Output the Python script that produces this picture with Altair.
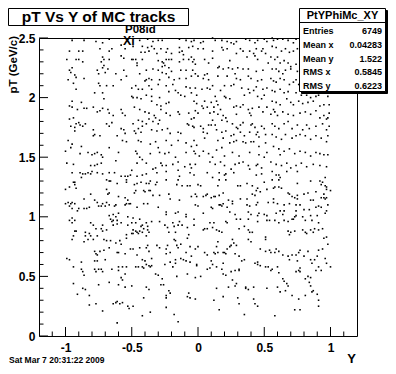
import altair as alt
import pandas as pd

# ---------------- data (pT vs Y of MC tracks) ----------------
upper_left = [
(-0.95,2.48),(-0.86,2.48),(-0.77,2.47),(-0.72,2.46),(-0.67,2.49),(-0.97,2.39),(-0.90,2.39),(-0.87,2.39),
(-0.74,2.41),(-0.67,2.39),(-0.65,2.41),(-0.58,2.44),(-0.55,2.41),(-0.99,2.32),(-0.92,2.32),(-0.90,2.32),
(-0.87,2.30),(-0.72,2.34),(-0.71,2.32),(-0.73,2.30),(-0.67,2.32),(-0.58,2.35),(-0.56,2.33),(-0.95,2.25),
(-0.97,2.23),(-0.96,2.21),(-0.93,2.19),(-0.92,2.17),(-0.86,2.16),(-0.76,2.23),(-0.75,2.20),(-0.72,2.25),
(-0.71,2.27),(-0.70,2.21),(-0.68,2.24),(-0.62,2.20),(-0.56,2.23),(-0.54,2.18),(-0.58,2.15),(-0.98,2.15),
(-0.94,2.12),(-0.75,2.12),(-0.74,2.10),(-0.69,2.10),(-0.64,2.10),(-0.72,2.04),(-0.71,1.99),(-0.92,2.07),
(-0.78,2.04),(-0.95,1.97),(-0.97,1.93),(-0.95,1.92),(-0.91,1.90),(-0.88,1.96),(-0.86,1.91),(-0.84,1.91),
(-0.79,1.92),(-0.76,1.88),(-0.74,1.89),(-0.72,1.91),(-0.68,1.90),(-0.67,1.87),(-0.64,1.85),(-0.58,1.90),
(-0.57,1.87),(-0.55,1.85),(-0.97,1.82),(-0.94,1.83),(-0.92,1.78),(-0.90,1.79),(-0.89,1.77),(-0.96,1.76),
(-0.93,1.75),(-0.93,1.72),(-0.87,1.76),(-0.85,1.78),(-0.79,1.73),(-0.69,1.78),(-0.67,1.76),(-0.65,1.79),
(-0.58,1.74),(-0.56,1.73),(-0.55,1.70),(-0.78,1.69),(-0.79,1.68),(-0.74,1.68),(-0.61,1.68),(-0.57,1.64),
(-0.54,1.63),(-0.98,1.64),(-0.95,1.61),(-0.88,1.59),(-0.96,1.58),(-1.00,1.55),(-0.89,1.53),(-0.83,1.54),
(-0.80,1.52),(-0.78,1.53),(-0.76,1.54),(-0.73,1.52),(-0.72,1.50),(-0.67,1.58),(-0.60,1.54),(-0.62,1.47),
(-0.99,1.45),(-0.94,1.44),(-0.81,1.43),(-0.78,1.43),(-0.76,1.44),(-0.73,1.45),
]
upper_midleft = [
(-0.44,2.48),(-0.38,2.49),(-0.34,2.47),(-0.30,2.48),(-0.27,2.48),(-0.14,2.49),(-0.09,2.48),(-0.05,2.47),
(-0.03,2.48),(-0.49,2.43),(-0.42,2.43),(-0.38,2.42),(-0.35,2.43),(-0.33,2.41),(-0.28,2.41),(-0.23,2.41),
(-0.14,2.42),(-0.12,2.39),(-0.07,2.42),(-0.04,2.43),(0.00,2.41),(-0.43,2.38),(-0.40,2.38),(-0.37,2.39),
(-0.31,2.37),(-0.24,2.38),(-0.20,2.37),(-0.14,2.38),(-0.11,2.36),(-0.50,2.32),(-0.49,2.32),(-0.47,2.32),
(-0.46,2.29),(-0.42,2.32),(-0.46,2.27),(-0.30,2.31),(-0.27,2.30),(-0.26,2.29),(-0.24,2.32),(-0.22,2.32),
(-0.20,2.32),(-0.27,2.26),(-0.25,2.27),(-0.22,2.25),(-0.14,2.30),(-0.11,2.32),(-0.07,2.32),(-0.05,2.34),
(-0.03,2.32),(-0.04,2.30),(-0.02,2.28),(-0.44,2.20),(-0.39,2.23),(-0.34,2.24),(-0.30,2.23),(-0.27,2.21),
(-0.24,2.20),(-0.20,2.22),(-0.13,2.23),(-0.09,2.23),(-0.04,2.23),(-0.02,2.20),(0.00,2.18),(-0.40,2.14),
(-0.39,2.15),(-0.37,2.16),(-0.35,2.15),(-0.29,2.15),(-0.22,2.17),(-0.18,2.15),(-0.14,2.16),(-0.09,2.16),
(-0.05,2.18),(-0.47,2.10),(-0.50,2.08),(-0.45,2.07),(-0.42,2.07),(-0.37,2.10),(-0.35,2.07),(-0.30,2.11),
(-0.24,2.10),(-0.19,2.11),(-0.17,2.06),(-0.09,2.09),(-0.06,2.08),(-0.02,2.08),(-0.50,2.01),(-0.49,2.00),
(-0.46,2.00),(-0.43,1.99),(-0.39,2.02),(-0.35,2.01),(-0.35,1.97),(-0.29,2.00),(-0.22,2.05),(-0.15,2.04),
(-0.13,2.02),(-0.10,2.01),(-0.05,2.04),(-0.01,2.02),(-0.03,1.97),(-0.01,1.95),(-0.31,1.94),(-0.28,1.93),
(-0.24,1.95),(-0.22,1.96),(-0.48,1.92),(-0.44,1.90),(-0.40,1.88),(-0.37,1.87),(-0.33,1.85),(-0.32,1.83),
(-0.28,1.90),(-0.24,1.87),(-0.21,1.85),(-0.15,1.88),(-0.14,1.86),(-0.07,1.87),(-0.05,1.82),(-0.03,1.83),
(-0.02,1.89),(0.00,1.87),(-0.49,1.78),(-0.45,1.81),(-0.42,1.80),(-0.39,1.78),(-0.37,1.82),(-0.34,1.80),
(-0.30,1.78),(-0.29,1.81),(-0.42,1.76),(-0.45,1.74),(-0.48,1.72),(-0.47,1.70),(-0.43,1.71),(-0.35,1.73),
(-0.31,1.72),(-0.27,1.73),(-0.23,1.74),(-0.21,1.70),(-0.15,1.71),(-0.13,1.70),(-0.08,1.78),(-0.07,1.77),
(-0.04,1.76),(-0.03,1.75),(-0.45,1.64),(-0.43,1.63),(-0.36,1.61),(-0.32,1.63),(-0.24,1.64),(-0.20,1.60),
(-0.15,1.64),(-0.09,1.62),(-0.05,1.59),(-0.03,1.64),(-0.01,1.60),(-0.47,1.55),(-0.46,1.53),(-0.44,1.50),
(-0.42,1.48),(-0.36,1.53),(-0.30,1.58),(-0.29,1.54),(-0.25,1.53),(-0.22,1.54),(-0.17,1.50),(-0.09,1.54),
(-0.03,1.55),(-0.02,1.53),(0.01,1.51),(-0.46,1.45),(-0.39,1.45),(-0.34,1.40),(-0.32,1.41),(-0.28,1.45),
(-0.27,1.43),(-0.24,1.43),(-0.19,1.44),(-0.15,1.46),(-0.10,1.42),(-0.06,1.44),(-0.05,1.41),(-0.02,1.44),
]
upper_midright = [
(0.02,2.46),(0.04,2.47),(0.11,2.50),(0.13,2.48),(0.18,2.48),(0.22,2.47),(0.25,2.46),(0.27,2.45),
(0.29,2.47),(0.36,2.49),(0.39,2.48),(0.43,2.46),(0.45,2.48),(0.50,2.49),(0.52,2.47),(0.04,2.41),
(0.11,2.39),(0.18,2.42),(0.19,2.40),(0.22,2.41),(0.29,2.37),(0.32,2.41),(0.34,2.39),(0.39,2.39),
(0.42,2.37),(0.44,2.41),(0.48,2.39),(0.49,2.41),(0.51,2.37),(0.43,2.35),(0.05,2.32),(0.08,2.29),
(0.11,2.33),(0.24,2.31),(0.37,2.34),(0.45,2.32),(0.53,2.29),(0.15,2.25),(0.16,2.26),(0.19,2.24),
(0.23,2.25),(0.26,2.24),(0.30,2.25),(0.34,2.24),(0.38,2.24),(0.44,2.22),(0.49,2.23),(0.05,2.19),
(0.07,2.20),(0.04,2.16),(0.08,2.15),(0.15,2.18),(0.22,2.18),(0.28,2.20),(0.29,2.16),(0.32,2.15),
(0.38,2.18),(0.40,2.16),(0.45,2.14),(0.48,2.15),(0.03,2.07),(0.07,2.08),(0.09,2.07),(0.11,2.10),
(0.17,2.06),(0.20,2.10),(0.25,2.10),(0.27,2.11),(0.33,2.08),(0.38,2.07),(0.42,2.06),(0.44,2.09),
(0.49,2.07),(0.52,2.08),(0.20,2.01),(0.21,2.00),(0.13,2.01),(0.05,1.97),(0.10,1.96),(0.14,1.97),
(0.24,1.99),(0.35,2.02),(0.39,2.04),(0.45,2.01),(0.48,1.99),(0.50,2.02),(0.03,1.93),(0.04,1.91),
(0.07,1.92),(0.12,1.92),(0.15,1.94),(0.17,1.90),(0.27,1.92),(0.29,1.93),(0.32,1.92),(0.34,1.94),
(0.38,1.90),(0.41,1.91),(0.46,1.92),(0.52,1.92),(0.09,1.87),(0.12,1.88),(0.15,1.86),(0.19,1.85),
(0.21,1.83),(0.29,1.86),(0.39,1.87),(0.40,1.85),(0.49,1.88),(0.11,1.81),(0.18,1.81),(0.22,1.80),
(0.13,1.77),(0.02,1.76),(0.04,1.74),(0.08,1.77),(0.10,1.77),(0.26,1.78),(0.29,1.75),(0.30,1.74),
(0.32,1.77),(0.34,1.79),(0.41,1.78),(0.40,1.77),(0.43,1.75),(0.48,1.76),(0.50,1.74),(0.04,1.71),
(0.07,1.70),(0.14,1.73),(0.18,1.71),(0.21,1.72),(0.25,1.68),(0.27,1.69),(0.32,1.71),(0.35,1.68),
(0.39,1.71),(0.44,1.69),(0.45,1.71),(0.46,1.67),(0.51,1.69),(0.05,1.66),(0.15,1.64),(0.19,1.66),
(0.24,1.62),(0.27,1.63),(0.29,1.64),(0.34,1.63),(0.36,1.62),(0.40,1.63),(0.42,1.63),(0.46,1.59),
(0.51,1.62),(0.18,1.58),(0.14,1.56),(0.04,1.55),(0.08,1.53),(0.11,1.50),(0.20,1.51),(0.26,1.54),
(0.31,1.51),(0.39,1.54),(0.46,1.52),(0.50,1.50),(0.52,1.54),(0.09,1.46),(0.13,1.44),(0.17,1.46),
(0.20,1.43),(0.25,1.40),(0.28,1.44),(0.31,1.45),(0.34,1.46),(0.38,1.43),(0.39,1.40),(0.44,1.43),
(0.45,1.44),(0.48,1.41),
]
upper_right = [
(0.56,2.50),(0.57,2.48),(0.60,2.49),(0.64,2.49),(0.68,2.48),(0.72,2.46),(0.74,2.49),(0.77,2.48),
(0.78,2.45),(0.56,2.43),(0.59,2.42),(0.63,2.39),(0.66,2.41),(0.69,2.38),(0.72,2.39),(0.75,2.41),
(0.77,2.37),(0.79,2.43),(0.55,2.34),(0.58,2.32),(0.60,2.34),(0.62,2.29),(0.65,2.31),(0.68,2.29),
(0.70,2.26),(0.74,2.28),(0.77,2.27),(0.79,2.31),(0.56,2.24),(0.59,2.24),(0.61,2.22),(0.64,2.20),
(0.66,2.23),(0.70,2.24),(0.75,2.22),(0.78,2.18),(0.80,2.20),(0.55,2.16),(0.57,2.14),(0.59,2.13),
(0.62,2.16),(0.65,2.15),(0.69,2.11),(0.72,2.13),(0.74,2.15),(0.76,2.11),(0.79,2.10),(0.81,2.12),
(0.56,2.06),(0.58,2.05),(0.62,2.07),(0.65,2.04),(0.68,2.05),(0.74,2.04),(0.78,2.02),(0.82,2.02),
(0.85,2.00),(0.89,2.01),(0.91,2.02),(0.94,2.04),(0.98,2.01),(0.56,1.97),(0.59,1.96),(0.62,1.94),
(0.67,1.99),(0.70,1.96),(0.72,1.94),(0.76,1.97),(0.79,1.95),(0.83,1.96),(0.87,1.97),(0.92,1.93),
(0.95,1.94),(0.99,1.94),(0.57,1.90),(0.55,1.86),(0.60,1.85),(0.58,1.88),(0.64,1.88),(0.68,1.86),
(0.72,1.85),(0.77,1.87),(0.81,1.88),(0.85,1.86),(0.89,1.89),(0.92,1.83),(0.95,1.85),(0.97,1.82),
(0.99,1.87),(0.98,1.83),(0.56,1.78),(0.58,1.76),(0.61,1.74),(0.65,1.78),(0.68,1.80),(0.71,1.74),
(0.75,1.77),(0.79,1.73),(0.82,1.77),(0.84,1.74),(0.89,1.76),(0.94,1.78),(0.97,1.73),(0.99,1.76),
(0.56,1.69),(0.59,1.67),(0.63,1.65),(0.66,1.69),(0.71,1.66),(0.74,1.68),(0.77,1.69),(0.81,1.68),
(0.85,1.65),(0.89,1.68),(0.93,1.66),(0.97,1.63),(0.98,1.68),(0.57,1.59),(0.61,1.57),(0.65,1.55),
(0.62,1.52),(0.69,1.57),(0.73,1.53),(0.77,1.55),(0.81,1.54),(0.85,1.51),(0.89,1.54),(0.92,1.53),
(0.95,1.52),(0.98,1.52),(0.55,1.46),(0.59,1.44),(0.63,1.43),(0.67,1.45),(0.70,1.41),(0.74,1.43),
(0.78,1.45),(0.82,1.42),(0.87,1.44),(0.92,1.43),(0.97,1.42),
]
lower_left = [
(-0.95,1.37),(-0.89,1.37),(-0.87,1.36),(-0.85,1.36),(-0.83,1.37),(-0.81,1.36),(-0.80,1.38),(-0.76,1.37),
(-0.72,1.36),(-0.67,1.37),(-0.63,1.37),(-0.58,1.34),(-0.55,1.34),(-0.53,1.34),(-0.51,1.35),(-0.50,1.39),
(-0.46,1.34),(-0.42,1.35),(-0.39,1.36),(-0.31,1.37),(-0.24,1.38),(-0.15,1.39),(-0.14,1.34),(-0.06,1.37),
(-0.03,1.35),(-0.88,1.33),(-0.93,1.29),(-0.94,1.29),(-0.93,1.27),(-0.97,1.25),(-1.00,1.23),(-0.92,1.24),
(-0.69,1.31),(-0.67,1.30),(-0.66,1.30),(-0.61,1.28),(-0.54,1.31),(-0.54,1.29),(-0.48,1.27),(-0.46,1.28),
(-0.43,1.29),(-0.39,1.28),(-0.36,1.30),(-0.37,1.28),(-0.31,1.29),(-0.32,1.27),(-0.24,1.31),(-0.16,1.27),
(-0.15,1.31),(-0.12,1.26),(-0.08,1.26),(-0.06,1.26),(0.00,1.27),(-0.69,1.23),(-0.68,1.19),(-0.67,1.20),
(-0.60,1.17),(-0.47,1.22),(-0.48,1.20),(-0.41,1.22),(-0.40,1.21),(-0.37,1.22),(-0.36,1.22),(-0.34,1.18),
(-0.29,1.18),(-0.22,1.19),(-0.02,1.19),(-0.01,1.17),(-0.05,1.17),(-1.00,1.11),(-0.98,1.12),(-0.97,1.09),
(-0.96,1.11),(-0.95,1.12),(-0.93,1.11),(-0.95,1.07),(-0.86,1.15),(-0.81,1.19),(-0.78,1.14),(-0.76,1.12),
(-0.75,1.09),(-0.73,1.09),(-0.72,1.11),(-0.70,1.09),(-0.69,1.12),(-0.67,1.10),(-0.63,1.09),(-0.62,1.10),
(-0.55,1.16),(-0.53,1.14),(-0.52,1.11),(-0.54,1.11),(-0.51,1.11),(-0.55,1.10),(-0.46,1.08),(-0.41,1.11),
(-0.38,1.11),(-0.30,1.08),(-0.21,1.15),(-0.14,1.14),(-0.02,1.10),(0.00,1.09),(-0.82,1.08),(-0.84,1.07),
(-0.86,1.07),(-0.91,1.05),(-0.90,1.07),(-0.24,1.04),(-0.17,1.03),(-0.15,1.04),(-0.24,1.02),(-0.09,1.02),
(-0.67,1.01),(-0.64,1.02),(-0.60,1.03),(-0.62,1.00),(-0.66,0.98),(-0.64,0.97),(-0.65,0.96),(-0.61,0.97),
(-0.61,0.94),(-0.64,0.93),(-0.58,0.95),(-0.53,1.00),(-0.49,0.99),(-0.50,0.95),(-0.47,0.95),(-0.44,0.98),
(-0.42,0.93),(-0.39,0.95),(-0.38,0.92),(-0.35,0.96),(-0.43,0.92),(-0.41,0.90),(-0.38,0.89),(-0.37,0.87),
(-0.49,0.89),(-0.47,0.88),(-0.46,0.87),(-0.42,0.87),(-0.95,0.99),(-0.97,0.97),(-0.93,0.97),(-0.95,0.95),
(-0.81,0.95),(-0.79,0.93),(-0.77,0.90),(-0.73,0.90),(-0.72,0.93),(-0.53,0.93),(-0.29,0.96),(-0.25,0.93),
(-0.14,0.96),(-0.15,0.93),(-0.19,0.95),(-0.18,0.92),(-0.09,1.00),(-0.12,0.93),(-0.03,0.93),(-0.23,0.91),
(-0.22,0.87),(-0.17,0.87),(-0.08,0.91),(-0.03,0.98),(-0.07,0.85),(-0.18,0.81),(-0.93,0.88),(-0.92,0.88),
(-0.85,0.87),(-0.94,0.84),(-0.82,0.86),(-0.81,0.84),(-0.85,0.84),(-0.83,0.81),(-0.86,0.79),(-0.95,0.81),
(-0.79,0.81),(-0.76,0.84),(-0.72,0.88),(-0.69,0.89),(-0.71,0.81),(-0.69,0.80),(-0.66,0.80),(-0.62,0.78),
(-0.59,0.80),(-0.58,0.77),(-0.54,0.85),(-0.54,0.82),(-0.50,0.86),(-0.49,0.86),(-0.45,0.86),(-0.44,0.88),
(-0.39,0.84),(-0.38,0.76),(-0.39,0.74),(-0.37,0.71),(-0.31,0.76),(-0.29,0.74),(-0.23,0.76),(-0.24,0.73),
(-0.21,0.70),(-0.24,0.69),(-0.17,0.80),(-0.16,0.76),(-0.15,0.74),(-0.13,0.77),(-0.08,0.82),(-0.06,0.75),
(-0.02,0.73),(0.00,0.75),(-0.61,0.70),(-0.60,0.70),(-0.55,0.69),(-0.51,0.73),(-0.49,0.73),(-0.44,0.74),
(-0.67,0.74),(-0.71,0.72),(-0.78,0.71),(-0.74,0.71),(-0.77,0.69),(-0.76,0.68),(-0.70,0.64),(-0.99,0.65),
(-0.97,0.64),(-0.94,0.58),(-0.88,0.62),(-0.88,0.56),(-0.87,0.54),(-0.86,0.51),(-0.78,0.63),(-0.76,0.63),
(-0.78,0.56),(-0.77,0.54),(-0.75,0.56),(-0.73,0.56),(-0.72,0.54),(-0.65,0.56),(-0.60,0.58),(-0.60,0.55),
(-0.58,0.49),(-0.57,0.47),(-0.55,0.52),(-0.57,0.58),(-0.54,0.58),(-0.46,0.68),(-0.42,0.64),(-0.40,0.63),
(-0.39,0.60),(-0.37,0.59),(-0.36,0.58),(-0.35,0.59),(-0.45,0.58),(-0.47,0.58),(-0.41,0.57),(-0.30,0.51),
(-0.32,0.52),(-0.27,0.48),(-0.25,0.60),(-0.21,0.62),(-0.19,0.58),(-0.17,0.64),(-0.17,0.61),(-0.13,0.65),
(-0.11,0.64),(-0.09,0.70),(-0.09,0.63),(-0.05,0.67),(-0.01,0.60),(-0.01,0.59),(-0.06,0.62),(-0.02,0.49),
(-0.08,0.52),(-0.16,0.50),(-0.35,0.65),(-0.42,0.58),(-0.94,0.44),(-0.87,0.40),(-0.85,0.39),(-0.91,0.35),
(-0.82,0.34),(-0.75,0.43),(-0.67,0.45),(-0.60,0.43),(-0.55,0.41),(-0.50,0.42),(-0.39,0.41),(-0.37,0.39),
(-0.28,0.43),(-0.26,0.43),(-0.22,0.38),(-0.21,0.36),(-0.24,0.34),(-0.24,0.32),(-0.41,0.32),(-0.07,0.36),
(-0.06,0.32),(-0.08,0.33),(-0.82,0.26),(-0.77,0.27),(-0.72,0.21),(-0.64,0.27),(-0.62,0.28),(-0.59,0.27),
(-0.61,0.29),(-0.57,0.28),(-0.53,0.25),(-0.52,0.23),(-0.49,0.25),(-0.42,0.17),(-0.36,0.20),(-0.24,0.24),
(-0.18,0.18),(-0.02,0.31),(-0.61,0.11),(-0.15,0.12),
]
lower_right = [
(0.07,1.37),(0.16,1.37),(0.20,1.35),(0.21,1.36),(0.27,1.37),(0.44,1.35),(0.48,1.36),(0.56,1.38),
(0.59,1.35),(0.61,1.35),(0.67,1.38),(0.75,1.38),(0.11,1.33),(0.21,1.31),(0.16,1.31),(0.32,1.26),
(0.37,1.28),(0.41,1.26),(0.50,1.29),(0.56,1.31),(0.61,1.31),(0.62,1.33),(0.61,1.25),(0.58,1.25),
(0.63,1.24),(0.75,1.28),(0.85,1.30),(0.92,1.30),(0.94,1.29),(0.93,1.27),(0.96,1.33),(0.96,1.26),
(0.97,1.25),(0.02,1.26),(0.15,1.26),(0.30,1.26),(0.41,1.19),(0.43,1.18),(0.44,1.22),(0.47,1.21),
(0.52,1.23),(0.57,1.24),(0.45,1.24),(0.68,1.20),(0.69,1.19),(0.71,1.17),(0.75,1.18),(0.73,1.16),
(0.75,1.15),(0.80,1.19),(0.83,1.20),(0.89,1.21),(0.97,1.23),(0.95,1.19),(1.00,1.22),(0.93,1.16),
(0.95,1.16),(0.96,1.15),(0.04,1.17),(0.06,1.18),(0.07,1.19),(0.10,1.16),(0.12,1.17),(0.13,1.17),
(0.16,1.18),(0.19,1.20),(0.23,1.14),(0.26,1.13),(0.26,1.11),(0.16,1.10),(0.17,1.10),(0.19,1.11),
(0.18,1.09),(0.22,1.08),(0.10,1.08),(0.11,1.07),(0.32,1.15),(0.37,1.15),(0.37,1.10),(0.39,1.09),
(0.45,1.12),(0.44,1.10),(0.53,1.12),(0.57,1.15),(0.57,1.12),(0.60,1.11),(0.65,1.10),(0.69,1.11),
(0.74,1.10),(0.77,1.10),(0.80,1.06),(0.84,1.06),(0.87,1.14),(0.85,1.14),(0.89,1.08),(0.91,1.09),
(0.93,1.08),(0.98,1.10),(0.97,1.16),(0.96,1.03),(0.97,1.05),(0.04,1.03),(0.24,1.04),(0.28,1.02),
(0.38,1.04),(0.40,1.02),(0.45,1.01),(0.46,1.03),(0.50,1.02),(0.52,1.01),(0.59,1.03),(0.62,1.05),
(0.64,1.02),(0.65,1.05),(0.71,0.98),(0.72,0.98),(0.74,1.05),(0.74,1.01),(0.73,1.00),(0.79,1.00),
(0.81,0.97),(0.85,1.01),(0.86,0.97),(0.90,1.01),(0.91,0.95),(0.12,0.95),(0.09,0.95),(0.21,0.96),
(0.22,0.95),(0.29,0.98),(0.32,0.98),(0.38,0.98),(0.45,0.96),(0.52,0.97),(0.54,0.97),(0.58,0.97),
(0.61,0.95),(0.65,0.97),(0.68,0.96),(0.31,0.90),(0.35,0.92),(0.38,0.89),(0.39,0.87),(0.41,0.87),
(0.05,0.90),(0.07,0.90),(0.11,0.91),(0.14,0.89),(0.16,0.88),(0.18,0.87),(0.04,0.89),(0.68,0.88),
(0.70,0.87),(0.73,0.88),(0.69,0.85),(0.79,0.89),(0.81,0.87),(0.82,0.86),(0.85,0.89),(0.88,0.90),
(0.87,0.87),(0.91,0.89),(0.95,0.82),(0.97,0.83),(0.94,0.90),(0.51,0.83),(0.51,0.81),(0.38,0.81),
(0.40,0.79),(0.26,0.81),(0.27,0.78),(0.29,0.76),(0.25,0.76),(0.24,0.75),(0.22,0.73),(0.20,0.70),
(0.15,0.79),(0.14,0.75),(0.15,0.70),(0.12,0.70),(0.13,0.69),(0.05,0.70),(0.07,0.68),(0.19,0.70),
(0.21,0.69),(0.28,0.69),(0.31,0.67),(0.33,0.63),(0.35,0.64),(0.47,0.73),(0.51,0.71),(0.54,0.72),
(0.55,0.70),(0.58,0.70),(0.59,0.73),(0.61,0.71),(0.64,0.68),(0.68,0.67),(0.69,0.64),(0.71,0.68),
(0.74,0.68),(0.76,0.70),(0.77,0.72),(0.80,0.67),(0.83,0.71),(0.85,0.64),(0.86,0.61),(0.88,0.64),
(0.90,0.67),(0.91,0.72),(0.94,0.73),(0.98,0.77),(0.96,0.65),(0.97,0.61),(0.93,0.55),(1.00,0.58),
(0.10,0.63),(0.09,0.57),(0.07,0.56),(0.11,0.60),(0.14,0.58),(0.19,0.61),(0.18,0.56),(0.19,0.52),
(0.21,0.51),(0.25,0.54),(0.28,0.55),(0.31,0.56),(0.31,0.55),(0.26,0.47),(0.28,0.42),(0.29,0.44),
(0.36,0.41),(0.43,0.61),(0.45,0.62),(0.45,0.60),(0.47,0.59),(0.51,0.58),(0.53,0.58),(0.55,0.55),
(0.56,0.56),(0.60,0.58),(0.61,0.53),(0.64,0.48),(0.65,0.46),(0.67,0.44),(0.68,0.42),(0.74,0.54),
(0.76,0.55),(0.77,0.54),(0.77,0.57),(0.81,0.48),(0.83,0.50),(0.85,0.49),(0.89,0.55),(0.91,0.58),
(0.75,0.63),(0.02,0.50),(0.14,0.40),(0.19,0.33),(0.30,0.32),(0.23,0.41),(0.31,0.27),(0.36,0.40),
(0.38,0.39),(0.42,0.41),(0.42,0.31),(0.43,0.27),(0.45,0.25),(0.52,0.40),(0.60,0.41),(0.62,0.37),
(0.66,0.38),(0.71,0.34),(0.76,0.31),(0.81,0.34),(0.86,0.37),(0.87,0.38),(0.90,0.35),(0.84,0.45),
(0.85,0.42),(0.91,0.30),(0.91,0.25),(0.77,0.22),(0.73,0.22),(0.58,0.17),(0.35,0.18),(0.16,0.22),
(0.12,0.30),
]

x_major = [-1.0, -0.5, 0.0, 0.5, 1.0]
x_minor = [-1.1, -0.9, -0.8, -0.7, -0.6, -0.4, -0.3, -0.2, -0.1,
           0.1, 0.2, 0.3, 0.4, 0.6, 0.7, 0.8, 0.9, 1.1]
y_major = [0.0, 0.5, 1.0, 1.5, 2.0, 2.5]
y_minor = [0.1, 0.2, 0.3, 0.4, 0.6, 0.7, 0.8, 0.9, 1.1, 1.2, 1.3, 1.4,
           1.6, 1.7, 1.8, 1.9, 2.1, 2.2, 2.3, 2.4]

stat_labels = ["Entries", "Mean x", "Mean y", "RMS x", "RMS y"]
stat_values = ["6749", "0.04283", "1.522", "0.5845", "0.6223"]

# ---------------- layout ----------------
W, H = 318, 298          # plot frame
OX, OY = 39, 38          # frame origin on page (incl. 8px margin)
MAX_X, MAX_Y = 388, 366  # last drawable page pixel (window minus 8px body margin)
FONT = "Liberation Sans"

pts = upper_left + upper_midleft + upper_midright + upper_right + lower_left + lower_right
df = pd.DataFrame(pts, columns=["Y", "pT"])

xs = alt.Scale(domain=[-1.2, 1.2], nice=False, zero=False)
ys = alt.Scale(domain=[0, 2.5], nice=False, zero=False)

ax_x = alt.Axis(values=x_major, ticks=False, domain=False, grid=False, title=None,
                labelExpr="datum.value + ''", labelFont=FONT, labelFontWeight="bold",
                labelFontSize=12, labelColor="black", labelPadding=6)
ax_y = alt.Axis(values=y_major, ticks=False, domain=False, grid=False, title=None,
                labelExpr="datum.value + ''", labelFont=FONT, labelFontWeight="bold",
                labelFontSize=12, labelColor="black", labelPadding=4)

points = alt.Chart(df).mark_square(size=2.5, color="black", opacity=1, strokeWidth=0).encode(
    x=alt.X("Y:Q", scale=xs, axis=ax_x),
    y=alt.Y("pT:Q", scale=ys, axis=ax_y),
)

def xticks(vals, length):
    return alt.Chart(pd.DataFrame({"v": vals})).mark_rule(color="black", strokeWidth=1).encode(
        x=alt.X("v:Q", scale=xs, axis=ax_x), y=alt.value(H), y2=alt.value(H - length))

def yticks(vals, length):
    return alt.Chart(pd.DataFrame({"v": vals})).mark_rule(color="black", strokeWidth=1).encode(
        y=alt.Y("v:Q", scale=ys, axis=ax_y), x=alt.value(0), x2=alt.value(length))

def px(v):
    return alt.value(v - OX)

def py(v):
    return alt.value(v - OY)

one = pd.DataFrame({"a": [0]})

def box(x1, y1, x2, y2, fill="white", stroke="black"):
    return alt.Chart(one).mark_rect(fill=fill, stroke=stroke, strokeWidth=1).encode(
        x=px(x1), x2=px(x2), y=py(y1), y2=py(y2))

def text(t, x, y, size, align="left", weight="bold", angle=0):
    return alt.Chart(pd.DataFrame({"t": [t]})).mark_text(
        font=FONT, fontSize=size, fontWeight=weight, align=align, baseline="middle",
        color="black", angle=angle).encode(text="t:N", x=px(x), y=py(y))

SB_L, SB_R, SB_T, SB_B = 299.5, 385.5, 8.5, 91.5   # stats box

layers = [
    points,
    xticks(x_major, 9), xticks(x_minor, 4.5),
    yticks(y_major, 9), yticks(y_minor, 4.5),
    box(8.5, 8.5, 188.5, 25.5),
    text("pT Vs Y of MC tracks", 98.5, 16.5, 15.5, align="center"),
    text("P08id", 125, 30, 11.5),
    text("Xi", 123, 41, 12.5),
    text("pT (GeV/c)", 14, 36, 11.5, align="right", angle=270),
    text("Y", 356, 359, 13, align="right"),
    text("Sat Mar  7 20:31:22 2009", 9, 360, 8.5),
    box(SB_L + 2, SB_T + 2, SB_R + 2, SB_B + 2, fill="black"),
    box(SB_L, SB_T, SB_R, SB_B),
    alt.Chart(one).mark_rule(color="black").encode(x=px(SB_L), x2=px(SB_R), y=py(22.5)),
    text("PtYPhiMc_XY", (SB_L + SB_R) / 2, 15.5, 11, align="center"),
]
rows_y = [31, 45, 58.5, 72, 85.5]
for lab, val, yy in zip(stat_labels, stat_values, rows_y):
    layers.append(text(lab, SB_L + 3.5, yy, 9))
    layers.append(text(val, SB_R - 3.5, yy, 9, align="right"))

chart = alt.layer(*layers).properties(
    width=W, height=H,
    autosize=alt.AutoSizeParams(type="none"),
    padding={"left": OX - 8, "top": OY - 8,
             "right": MAX_X - OX - W, "bottom": MAX_Y - OY - H},
    background="white",
).configure_view(stroke="black", strokeWidth=1)

chart.save("out.html", embed_options={"renderer": "svg", "actions": False})
